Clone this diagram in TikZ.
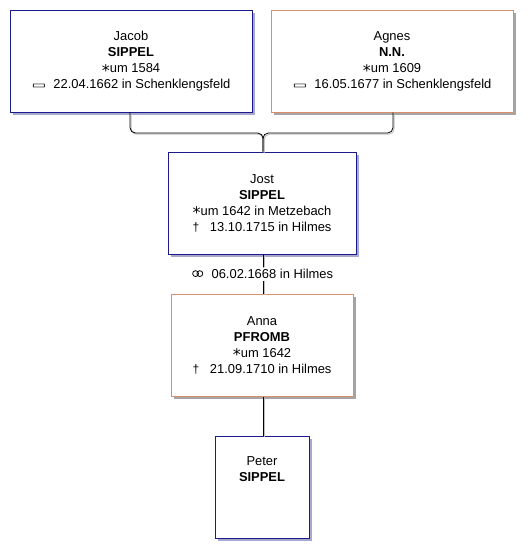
\documentclass[tikz,border=0pt]{standalone}
\usepackage{fontspec}
\setmainfont{Liberation Sans}
\newfontfamily\symf{DejaVu Sans}
\usetikzlibrary{shadows}
\definecolor{boxblue}{RGB}{26,26,140}
\definecolor{boxorange}{RGB}{216,144,106}
\definecolor{shblue}{RGB}{168,168,205}
\definecolor{shgray}{RGB}{165,165,165}
\newcommand{\birth}{{\symf\large\raisebox{-0.45ex}{*}}}
\newcommand{\burial}{{\symf\scalebox{1.2}[0.75]{▭}}\ \ }
\newcommand{\death}{{\small†}\ \ \ }
\tikzset{
  pbox/.style={draw, line width=0.75pt, fill=white, minimum height=76.5pt,
    align=center, inner sep=0pt, font=\fontsize{9.7}{12}\selectfont},
  male/.style={pbox, draw=boxblue, drop shadow={shadow xshift=2.3pt, shadow yshift=-2.3pt, fill=shblue, opacity=1}},
  female/.style={pbox, draw=boxorange, drop shadow={shadow xshift=2.3pt, shadow yshift=-2.3pt, fill=shgray, opacity=1}},
  conn/.style={line width=0.6pt, rounded corners=4pt,
    preaction={draw=gray!50, line width=0.7pt, transform canvas={shift={(0.9pt,-0.9pt)}}}},
  lbl/.style={fill=white, inner sep=1.5pt, font=\fontsize{9.7}{12}\selectfont},
  ring/.style={line width=0.6pt}
}
\begin{document}
\begin{tikzpicture}[x=0.75pt, y=-0.75pt]
\useasboundingbox (0,0) rectangle (532,558);
\node[male, minimum width=181.5pt] (jacob) at (131,61)
  {Jacob\\\textbf{SIPPEL}\\\birth um 1584\\\burial 22.04.1662 in Schenklengsfeld};
\node[female, minimum width=181.5pt] (agnes) at (392,61)
  {Agnes\\\textbf{N.N.}\\\birth um 1609\\\burial 16.05.1677 in Schenklengsfeld};
\node[male, minimum width=141pt] (jost) at (262,203)
  {Jost\\\textbf{SIPPEL}\\\birth um 1642 in Metzebach\\\death 13.10.1715 in Hilmes};
\node[female, minimum width=136.5pt] (anna) at (262,345)
  {Anna\\\textbf{PFROMB}\\\birth um 1642\\\death 21.09.1710 in Hilmes};
\node[male, minimum width=70.5pt] (peter) at (262,487)
  {Peter\\\textbf{SIPPEL}\\\strut\\\strut};
\coordinate (j) at (263,133);
\draw[conn] (jacob.south -| 130,0) |- (j) -- (jost.north -| j);
\draw[conn] (agnes.south -| 393,0) |- (j) -- (jost.north -| j);
\draw[conn] (jost.south -| j) -- node[lbl] (mlbl) {\hspace{14pt}06.02.1668 in Hilmes} (anna.north -| j);
\draw[conn] (anna.south -| j) -- (peter.north -| j);
\draw[ring] ([xshift=3.8pt,yshift=0.3pt]mlbl.west) circle (2.2pt);
\draw[ring] ([xshift=7.0pt,yshift=0.3pt]mlbl.west) circle (2.2pt);
\end{tikzpicture}
\end{document}
